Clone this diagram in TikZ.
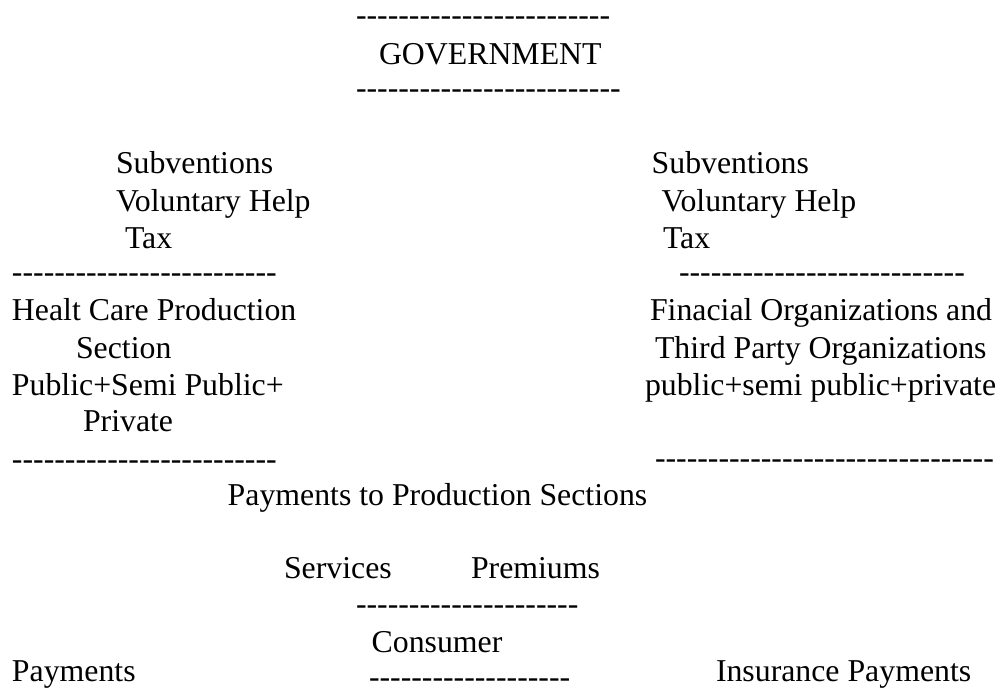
\documentclass[tikz,border=0pt]{standalone}
\usepackage{fontspec}
\newfontfamily\tnr{Liberation Serif}
\newcommand\hyph[1]{\foreach\k in {1,...,#1}{-\kern0pt}}
\tikzset{
  txt/.style={anchor=base west, inner sep=0pt, outer sep=0pt,
    font=\tnr\fontsize{31.8}{38}\selectfont, text=black},
}
\begin{document}
\begin{tikzpicture}[x=1pt,y=-1pt]
\useasboundingbox (0,0) rectangle (1001,693);
% Government
\node[txt] (govtop) at (356,25.5) {\hyph{24}};
\node[txt] (gov) at (379,64) {GOVERNMENT};
\node[txt] (govbot) at (356,99) {\hyph{25}};
% left flows
\node[txt] (lsub) at (116,173) {Subventions};
\node[txt] (lvol) at (116,211) {Voluntary Help};
\node[txt] (ltax) at (125,248) {Tax};
\node[txt] (ltop) at (12,282) {\hyph{25}};
\node[txt] (hc1) at (12,320.7) {Healt Care Production};
\node[txt] (hc2) at (76,358) {Section};
\node[txt] (hc3) at (12,395) {Public+Semi Public+};
\node[txt] (hc4) at (83,431.7) {Private};
\node[txt] (lbot) at (12,469) {\hyph{25}};
% right flows
\node[txt] (rsub) at (651.7,173) {Subventions};
\node[txt] (rvol) at (661.7,211) {Voluntary Help};
\node[txt] (rtax) at (663,248) {Tax};
\node[txt] (rtop) at (679,282) {\hyph{27}};
\node[txt] (fo1) at (650,320.7) {Finacial Organizations and};
\node[txt] (fo2) at (655,358) {Third Party Organizations};
\node[txt] (fo3) at (645,395) {public+semi public+private};
\node[txt] (rbot) at (655,468.5) {\hyph{32}};
% middle
\node[txt] (pay) at (227.7,505) {Payments to Production Sections};
\node[txt] (serv) at (284,578) {Services};
\node[txt] (prem) at (471,578) {Premiums};
\node[txt] (ctop) at (356,614) {\hyph{21}};
\node[txt] (cons) at (371.7,652.7) {Consumer};
\node[txt] (cbot) at (369,687.5) {\hyph{19}};
\node[txt] (lpay) at (12,681) {Payments};
\node[txt] (ipay) at (716,681) {Insurance Payments};
\end{tikzpicture}
\end{document}
